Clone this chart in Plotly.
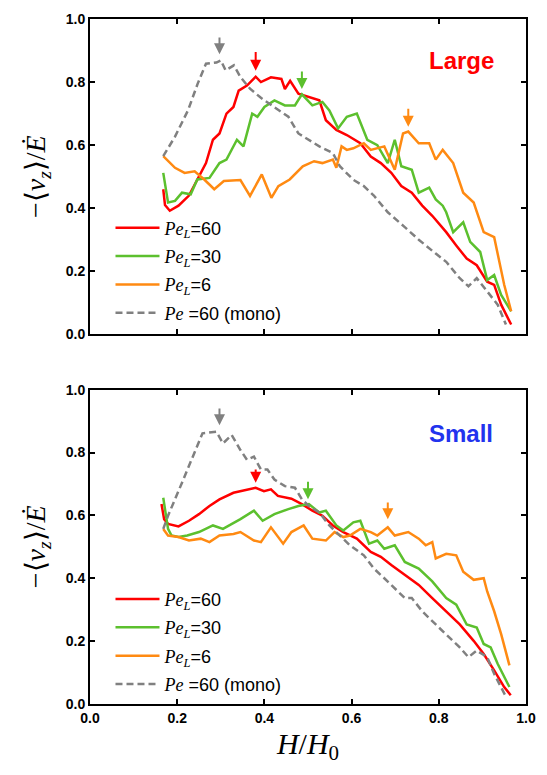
import plotly.graph_objects as go
from plotly.subplots import make_subplots

# ---------------- data: Large (top panel) ----------------
L_red_x = [0.168,0.172,0.183,0.203,0.227,0.25,0.266,0.282,0.297,0.313,0.329,0.341,0.36,0.38,0.392,0.415,0.439,0.447,0.459,0.478,0.502,0.526,0.541,0.565,0.589,0.62,0.644,0.667,0.691,0.714,0.738,0.762,0.785,0.817,0.84,0.864,0.887,0.911,0.927,0.943,0.966]
L_red_y = [0.46,0.41,0.392,0.408,0.44,0.50,0.543,0.617,0.637,0.70,0.721,0.773,0.789,0.817,0.80,0.815,0.81,0.778,0.804,0.763,0.752,0.742,0.679,0.648,0.632,0.606,0.564,0.543,0.512,0.47,0.449,0.408,0.376,0.324,0.282,0.24,0.219,0.167,0.157,0.094,0.031]

L_green_x = [0.168,0.179,0.195,0.211,0.231,0.246,0.274,0.297,0.313,0.337,0.352,0.372,0.384,0.40,0.423,0.447,0.47,0.486,0.51,0.533,0.549,0.569,0.589,0.612,0.636,0.659,0.683,0.699,0.714,0.738,0.754,0.778,0.793,0.809,0.817,0.833,0.856,0.872,0.895,0.911,0.927,0.943,0.966]
L_green_y = [0.512,0.418,0.423,0.449,0.444,0.491,0.496,0.543,0.554,0.617,0.596,0.70,0.69,0.721,0.742,0.726,0.726,0.761,0.726,0.737,0.71,0.653,0.69,0.70,0.617,0.60,0.543,0.617,0.533,0.522,0.449,0.465,0.428,0.408,0.387,0.324,0.355,0.293,0.261,0.172,0.188,0.125,0.073]

L_orange_x = [0.168,0.195,0.217,0.24,0.262,0.285,0.307,0.345,0.367,0.394,0.416,0.432,0.458,0.488,0.514,0.533,0.557,0.565,0.577,0.589,0.604,0.628,0.644,0.675,0.699,0.718,0.73,0.754,0.778,0.793,0.809,0.833,0.856,0.88,0.903,0.927,0.95,0.966]
L_orange_y = [0.565,0.528,0.512,0.517,0.491,0.46,0.486,0.489,0.439,0.507,0.433,0.47,0.491,0.533,0.549,0.543,0.554,0.528,0.596,0.585,0.59,0.606,0.585,0.596,0.522,0.637,0.643,0.606,0.606,0.554,0.585,0.543,0.449,0.418,0.324,0.308,0.157,0.073]

L_gray_x = [0.168,0.195,0.225,0.247,0.266,0.29,0.30,0.311,0.33,0.345,0.367,0.392,0.423,0.455,0.478,0.502,0.526,0.557,0.573,0.604,0.628,0.651,0.683,0.722,0.754,0.793,0.817,0.848,0.868,0.887,0.911,0.935,0.954]
L_gray_y = [0.565,0.627,0.711,0.795,0.858,0.862,0.869,0.837,0.853,0.816,0.779,0.75,0.72,0.69,0.637,0.616,0.596,0.575,0.533,0.49,0.47,0.44,0.387,0.34,0.30,0.256,0.23,0.178,0.152,0.178,0.136,0.094,0.031]

# ---------------- data: Small (bottom panel) ----------------
S_red_x = [0.164,0.17,0.179,0.203,0.227,0.25,0.274,0.297,0.329,0.36,0.38,0.399,0.415,0.431,0.462,0.486,0.51,0.533,0.557,0.581,0.612,0.644,0.667,0.691,0.722,0.754,0.785,0.817,0.848,0.88,0.903,0.927,0.95,0.965]
S_red_y = [0.636,0.588,0.573,0.565,0.583,0.604,0.63,0.651,0.672,0.683,0.688,0.677,0.683,0.662,0.653,0.636,0.615,0.599,0.568,0.547,0.526,0.484,0.468,0.442,0.41,0.379,0.337,0.295,0.253,0.201,0.159,0.107,0.054,0.028]

S_green_x = [0.168,0.179,0.187,0.203,0.223,0.25,0.282,0.305,0.345,0.376,0.396,0.423,0.455,0.478,0.502,0.526,0.541,0.565,0.581,0.604,0.62,0.64,0.659,0.675,0.699,0.722,0.754,0.785,0.817,0.84,0.864,0.887,0.903,0.919,0.935,0.962]
S_green_y = [0.656,0.557,0.536,0.531,0.536,0.547,0.568,0.557,0.588,0.615,0.583,0.604,0.62,0.63,0.636,0.609,0.615,0.568,0.552,0.578,0.583,0.51,0.52,0.494,0.505,0.452,0.431,0.39,0.337,0.316,0.253,0.243,0.191,0.18,0.128,0.054]

S_orange_x = [0.168,0.179,0.203,0.227,0.254,0.274,0.297,0.329,0.345,0.376,0.392,0.415,0.443,0.462,0.49,0.51,0.541,0.561,0.581,0.596,0.62,0.644,0.659,0.683,0.699,0.73,0.754,0.77,0.785,0.793,0.817,0.84,0.856,0.88,0.903,0.911,0.927,0.943,0.962]
S_orange_y = [0.557,0.536,0.531,0.52,0.526,0.515,0.536,0.541,0.547,0.52,0.515,0.562,0.51,0.547,0.568,0.526,0.52,0.547,0.531,0.536,0.557,0.547,0.536,0.562,0.536,0.547,0.526,0.505,0.515,0.463,0.478,0.473,0.421,0.395,0.40,0.358,0.295,0.222,0.123]

S_gray_x = [0.168,0.179,0.211,0.235,0.258,0.29,0.305,0.325,0.345,0.36,0.376,0.392,0.407,0.423,0.447,0.47,0.486,0.502,0.526,0.549,0.573,0.596,0.628,0.651,0.675,0.691,0.722,0.738,0.762,0.793,0.817,0.848,0.868,0.887,0.911,0.927,0.954]
S_gray_y = [0.557,0.599,0.704,0.787,0.861,0.866,0.829,0.856,0.808,0.777,0.787,0.746,0.746,0.714,0.693,0.688,0.651,0.63,0.609,0.568,0.536,0.505,0.473,0.431,0.40,0.379,0.337,0.337,0.295,0.253,0.222,0.18,0.149,0.17,0.149,0.096,0.023]

# arrows: x, tip y, tail y
L_arrow_x = [0.297, 0.38, 0.486, 0.73]
L_arrow_tip = [0.888, 0.836, 0.778, 0.658]
L_arrow_tail = [0.946, 0.90, 0.838, 0.72]
S_arrow_x = [0.297, 0.38, 0.50, 0.683]
S_arrow_tip = [0.887, 0.704, 0.651, 0.588]
S_arrow_tail = [0.945, 0.751, 0.712, 0.646]
arrow_colors = ["#808080", "#FF0000", "#5CC02E", "#FF8A12"]

names = [
    '<span style="font-family:Liberation Serif"><i>Pe</i><sub><i>L</i></sub></span>=60',
    '<span style="font-family:Liberation Serif"><i>Pe</i><sub><i>L</i></sub></span>=30',
    '<span style="font-family:Liberation Serif"><i>Pe</i><sub><i>L</i></sub></span>=6',
    '<span style="font-family:Liberation Serif"><i>Pe</i></span> =60 (mono)',
]
colors = ["#FF0000", "#5CC02E", "#FF8A12", "#808080"]
dashes = ["solid", "solid", "solid", "7px,4px"]

top = [(L_red_x, L_red_y), (L_green_x, L_green_y), (L_orange_x, L_orange_y), (L_gray_x, L_gray_y)]
bot = [(S_red_x, S_red_y), (S_green_x, S_green_y), (S_orange_x, S_orange_y), (S_gray_x, S_gray_y)]

fig = make_subplots(rows=2, cols=1, vertical_spacing=0.08)

for i, (xs, ys) in enumerate(top):
    fig.add_trace(go.Scatter(x=xs, y=ys, mode="lines", name=names[i],
                             line=dict(color=colors[i], width=2.5, dash=dashes[i]),
                             legend="legend", legendgroup="t%d" % i), row=1, col=1)
for i, (xs, ys) in enumerate(bot):
    fig.add_trace(go.Scatter(x=xs, y=ys, mode="lines", name=names[i],
                             line=dict(color=colors[i], width=2.5, dash=dashes[i]),
                             legend="legend2", legendgroup="b%d" % i), row=2, col=1)

sans = "Liberation Sans, Arial"
serif = "Liberation Serif, Times New Roman"
axis_common = dict(range=[0, 1], dtick=0.2, tickformat=".1f", showline=True, linewidth=2,
                   linecolor="black", mirror="ticks", ticks="inside", ticklen=5, tickwidth=1.5,
                   tickcolor="black", showgrid=False, zeroline=False,
                   tickprefix="<b>", ticksuffix="</b>",
                   tickfont=dict(family=sans, size=14, color="black"))

ytitle = "\u2212\u27e8<i>v</i><sub><i>z</i></sub>\u27e9/<i>\u0116</i>"

fig.update_layout(
    width=547, height=775, margin=dict(l=90, r=13, t=11, b=71),
    paper_bgcolor="white", plot_bgcolor="white",
    xaxis=dict(**axis_common, domain=[0, 1], showticklabels=False),
    xaxis2=dict(**axis_common, domain=[0, 1],
                title=dict(text="<i>H</i>/<i>H</i><sub>0</sub>", font=dict(family=serif, size=30, color="black"), standoff=8)),
    yaxis=dict(**axis_common, domain=[0.5397, 1.0],
               title=dict(text=ytitle, font=dict(family=serif, size=28, color="black"), standoff=12)),
    yaxis2=dict(**axis_common, domain=[0.0, 0.4589],
                title=dict(text=ytitle, font=dict(family=serif, size=28, color="black"), standoff=12)),
    legend=dict(x=0.047, y=0.722, xanchor="left", yanchor="top", bgcolor="rgba(0,0,0,0)",
                font=dict(family=sans, size=18, color="black"), tracegroupgap=2, itemwidth=44),
    legend2=dict(x=0.047, y=0.180, xanchor="left", yanchor="top", bgcolor="rgba(0,0,0,0)",
                 font=dict(family=sans, size=18, color="black"), tracegroupgap=2, itemwidth=44),
)

for xs, tips, tails, xr, yr in [(L_arrow_x, L_arrow_tip, L_arrow_tail, "x", "y"),
                                 (S_arrow_x, S_arrow_tip, S_arrow_tail, "x2", "y2")]:
    for j in range(len(xs)):
        fig.add_annotation(x=xs[j], y=tips[j], ax=xs[j], ay=tails[j], xref=xr, yref=yr,
                           axref=xr, ayref=yr, text="", showarrow=True, arrowhead=2,
                           arrowsize=1.1, arrowwidth=2, arrowcolor=arrow_colors[j])

fig.add_annotation(x=0.852, y=0.869, xref="x", yref="y", text="<b>Large</b>", showarrow=False,
                   font=dict(family=sans, size=24, color="#FF0000"))
fig.add_annotation(x=0.852, y=0.862, xref="x2", yref="y2", text="<b>Small</b>", showarrow=False,
                   font=dict(family=sans, size=24, color="#2233EE"))

fig.write_html("out.html")
